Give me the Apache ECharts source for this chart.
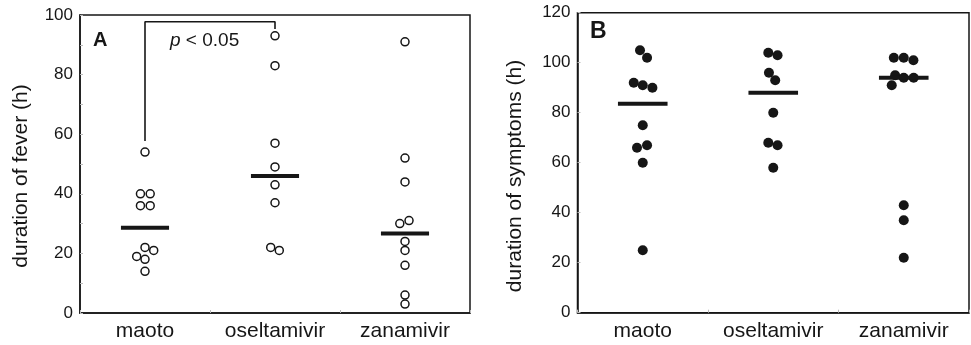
<!DOCTYPE html>
<html>
<head>
<meta charset="utf-8">
<script src="https://cdn.jsdelivr.net/npm/echarts@6/dist/echarts.min.js"></script>
<style>
html,body{margin:0;padding:0;background:#fff;}
#chart{width:971px;height:345px;}
</style>
</head>
<body>
<div id="chart"></div>
<script>
// ---- data ----
const categories = ['maoto', 'oseltamivir', 'zanamivir'];

// Panel A: duration of fever (h), open circles
const maotoFever = [54, 40, 40, 36, 36, 22, 21, 19, 18, 14];
const maotoFeverJitter = [0, -0.035, 0.04, -0.035, 0.04, 0, 0.067, -0.064, 0, 0];
const oseltamivirFever = [93, 83, 57, 49, 43, 37, 22, 21];
const oseltamivirFeverJitter = [0, 0, 0, 0, 0, 0, -0.033, 0.033];
const zanamivirFever = [91, 52, 44, 31, 30, 24, 21, 16, 6, 3];
const zanamivirFeverJitter = [0, 0, 0, 0.031, -0.04, 0, 0, 0, 0, 0];
const feverMedians = [28.6, 46, 26.7];
const feverTicks = [0, 20, 40, 60, 80, 100];

// Panel B: duration of symptoms (h), filled circles
const maotoSymptoms = [105, 102, 92, 91, 90, 75, 67, 66, 60, 25];
const maotoSymptomsJitter = [-0.021, 0.033, -0.069, 0, 0.074, 0, 0.033, -0.044, 0, 0];
const oseltamivirSymptoms = [104, 103, 96, 93, 80, 68, 67, 58];
const oseltamivirSymptomsJitter = [-0.038, 0.033, -0.033, 0.015, 0, -0.038, 0.033, 0];
const zanamivirSymptoms = [102, 102, 101, 95, 94, 94, 91, 43, 37, 22];
const zanamivirSymptomsJitter = [-0.076, 0, 0.074, -0.066, 0, 0.076, -0.092, 0, 0, 0];
const symptomsMedians = [83.6, 88, 94];
const symptomsTicks = [0, 20, 40, 60, 80, 100, 120];

// significance bracket (maoto vs oseltamivir), fever panel
const bracketLow = [57.7, 95.3];
const bracketTop = 97.75;
const pText = 'p < 0.05';

// ---- build ----
const FONT = '"Liberation Sans", Arial, Helvetica, sans-serif';
const INK = '#161616';

function pts(catIdx, vals, jit) {
  return vals.map((v, i) => [catIdx + 0.5 + jit[i], v]);
}
const feverPts = [].concat(
  pts(0, maotoFever, maotoFeverJitter),
  pts(1, oseltamivirFever, oseltamivirFeverJitter),
  pts(2, zanamivirFever, zanamivirFeverJitter)
);
const symptomPts = [].concat(
  pts(0, maotoSymptoms, maotoSymptomsJitter),
  pts(1, oseltamivirSymptoms, oseltamivirSymptomsJitter),
  pts(2, zanamivirSymptoms, zanamivirSymptomsJitter)
);

function medianSeries(xi, yi, meds, half) {
  return {
    type: 'custom',
    xAxisIndex: xi, yAxisIndex: yi,
    z: 5, silent: true,
    data: meds.map((m, i) => [i + 0.5, m]),
    renderItem: function (params, api) {
      const c = api.value(0), m = api.value(1);
      const p1 = api.coord([c - half, m]);
      const p2 = api.coord([c + half, m]);
      return {
        type: 'line',
        shape: { x1: p1[0], y1: p1[1], x2: p2[0], y2: p2[1] },
        style: { stroke: INK, lineWidth: 4 }
      };
    }
  };
}

function catAxis(gi) {
  return {
    type: 'category', gridIndex: gi, data: categories, boundaryGap: true,
    axisLine: { show: true, lineStyle: { color: INK, width: 1.5 } },
    axisTick: { show: true, inside: true, length: 3, lineStyle: { color: '#bbb' } },
    axisLabel: { interval: 0, fontFamily: FONT, fontSize: 21, color: INK, margin: 8, lineHeight: 21, hideOverlap: false },
    splitLine: { show: false }
  };
}
function valXAxis(gi) {
  return { type: 'value', gridIndex: gi, min: 0, max: 3, show: false };
}
function valYAxis(gi, ticks, minor) {
  return {
    type: 'value', gridIndex: gi,
    min: ticks[0], max: ticks[ticks.length - 1], interval: ticks[1] - ticks[0],
    axisLine: { show: true, lineStyle: { color: INK, width: 1.5 } },
    axisTick: { show: true, inside: true, length: 3, lineStyle: { color: '#bbb' } },
    minorTick: { show: minor, splitNumber: 2, length: 3, lineStyle: { color: '#bbb' } },
    axisLabel: { fontFamily: FONT, fontSize: 17, color: INK, margin: 7 },
    splitLine: { show: false }
  };
}

const chart = echarts.init(document.getElementById('chart'), null, { renderer: 'canvas' });
chart.setOption({
  animation: false,
  backgroundColor: '#fff',
  grid: [
    { left: 80, top: 15, width: 390, height: 298, show: true, borderColor: INK, borderWidth: 1.5, containLabel: false },
    { left: 577.5, top: 12.7, width: 391.5, height: 300, show: true, borderColor: INK, borderWidth: 1.5, containLabel: false }
  ],
  xAxis: [catAxis(0), valXAxis(0), catAxis(1), valXAxis(1)],
  yAxis: [valYAxis(0, feverTicks, true), valYAxis(1, symptomsTicks, false)],
  series: [
    {
      type: 'line', xAxisIndex: 1, yAxisIndex: 0, silent: true, symbol: 'none', z: 3,
      data: [[0.5, bracketLow[0]], [0.5, bracketTop], [1.5, bracketTop], [1.5, bracketLow[1]]],
      lineStyle: { color: INK, width: 1.6 }
    },
    {
      type: 'scatter', xAxisIndex: 1, yAxisIndex: 0, data: feverPts,
      symbol: 'circle', symbolSize: 8, z: 4,
      itemStyle: { color: '#fff', borderColor: INK, borderWidth: 1.5, opacity: 1 }
    },
    medianSeries(1, 0, feverMedians, 0.185),
    {
      type: 'scatter', xAxisIndex: 3, yAxisIndex: 1, data: symptomPts,
      symbol: 'circle', symbolSize: 10, z: 4,
      itemStyle: { color: INK, opacity: 1 }
    },
    medianSeries(3, 1, symptomsMedians, 0.19)
  ],
  graphic: [
    { type: 'text', left: 93, top: 30, style: { text: 'A', fontFamily: FONT, fontSize: 20, fontWeight: 'bold', fill: INK } },
    { type: 'text', left: 590, top: 20, style: { text: 'B', fontFamily: FONT, fontSize: 23, fontWeight: 'bold', fill: INK } },
    {
      type: 'text', left: 170, top: 31,
      style: {
        text: '{i|p} {n|' + pText.slice(2) + '}',
        rich: {
          i: { fontFamily: FONT, fontSize: 19, fontStyle: 'italic', fill: INK },
          n: { fontFamily: FONT, fontSize: 19, fill: INK }
        },
        fontFamily: FONT, fontSize: 19, fill: INK
      }
    },
    {
      type: 'text', x: 21.5, y: 176, rotation: Math.PI / 2,
      style: { text: 'duration of fever (h)', fontFamily: FONT, fontSize: 21, fill: INK, align: 'center', verticalAlign: 'middle' }
    },
    {
      type: 'text', x: 515.5, y: 176, rotation: Math.PI / 2,
      style: { text: 'duration of symptoms (h)', fontFamily: FONT, fontSize: 21, fill: INK, align: 'center', verticalAlign: 'middle' }
    }
  ]
});
</script>
</body>
</html>
